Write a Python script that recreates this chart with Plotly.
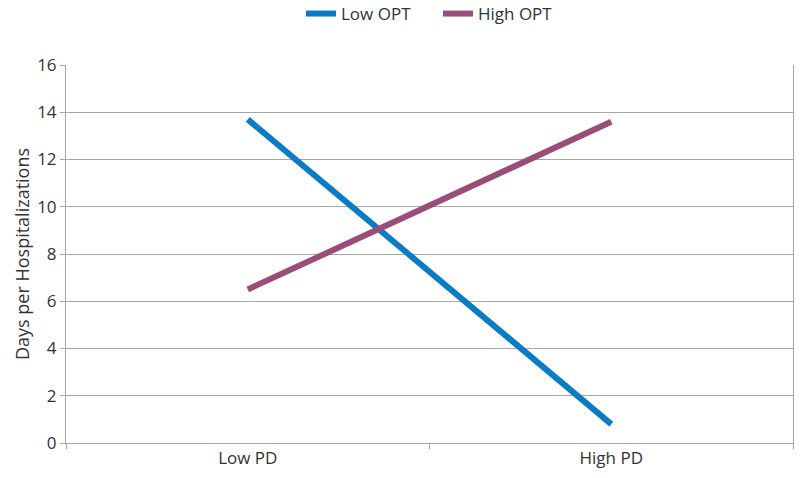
import plotly.graph_objects as go

categories = ["Low PD", "High PD"]
low_opt = [13.7, 0.8]
high_opt = [6.5, 13.6]
y_ticks = [0, 2, 4, 6, 8, 10, 12, 14, 16]

font_family = "'Open Sans', 'Noto Sans', sans-serif"
grid = "#a6a6a6"

fig = go.Figure()
fig.add_trace(go.Scatter(x=categories, y=low_opt, name="Low OPT", mode="lines",
                         line=dict(color="#0a7cc6", width=6)))
fig.add_trace(go.Scatter(x=categories, y=high_opt, name="High OPT", mode="lines",
                         line=dict(color="#9a4d79", width=6)))

fig.update_layout(
    width=800, height=478,
    margin=dict(l=66, r=7, t=65, b=35, autoexpand=False),
    paper_bgcolor="white", plot_bgcolor="white",
    font=dict(family=font_family, size=16, color="#333333"),
    legend=dict(orientation="h", x=(301 - 66) / 727, xanchor="left",
                y=1 + (65 - 14) / 378, yanchor="middle",
                font=dict(size=17), traceorder="normal",
                entrywidth=92, entrywidthmode="pixels"),
    showlegend=True,
)
fig.update_xaxes(type="category", range=[-0.5, 1.5], showgrid=False,
                 tickson="boundaries", ticks="outside", ticklen=5, tickcolor=grid,
                 showline=True, linecolor=grid, linewidth=1,
                 tickfont=dict(size=17), zeroline=False, automargin=False)
fig.update_yaxes(range=[0, 16], tickvals=y_ticks, showgrid=True, gridcolor=grid,
                 gridwidth=1, ticks="outside", ticklen=5, tickcolor=grid,
                 showline=True, linecolor=grid, mirror=True, zeroline=False,
                 tickfont=dict(size=17), automargin=False,
                 title=dict(text="Days per Hospitalizations", font=dict(size=18), standoff=2))

# remove the default 8px page margin so the figure sits at the top-left corner
fig.write_html("out.html", config={"displayModeBar": False},
               post_script="document.body.style.margin='0';")
